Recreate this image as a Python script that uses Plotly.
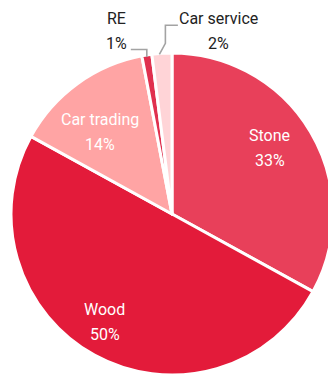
import math
import plotly.graph_objects as go

# ---- data ----
labels = ["Stone", "Wood", "Car trading", "RE", "Car service"]
values = [33, 50, 14, 1, 2]

# ---- styles ----
colors = ["#E8405A", "#E31B3A", "#FFA4A4", "#E0304E", "#FFD4D7"]
FONT = "Roboto"
FONT_SIZE = 16
LINE_GAP = 25  # px between label line and percent line

# ---- geometry (pixels) ----
FIG_W, FIG_H = 344, 377
M_L, M_R, M_T, M_B = 11, 11, 53, 2
PW, PH = FIG_W - M_L - M_R, FIG_H - M_T - M_B
CX, CY, R = M_L + PW / 2, M_T + PH / 2, min(PW, PH) / 2

# label placement style: inside -> (angle offset from slice mid, radius fraction)
inside_style = {"Stone": (-3.4, 0.733), "Wood": (3.0, 0.79), "Car trading": (-5.3, 0.68)}
# outside -> label centre offset from slice edge point, leader path offsets
outside_style = {
    "RE": dict(label=(-30, -24), path=[(0, 2), (0, -5.5), (-16, -5.5)]),
    "Car service": dict(label=(57, -22), path=[(-2.5, 1), (3.5, -10), (3.5, -28), (16, -28)]),
}

def px_to_paper(x, y):
    return (x - M_L) / PW, 1 - (y - M_T) / PH

total = sum(values)
mids = []
cum = 0
for v in values:
    mids.append((cum + v / 2) / total * 360)
    cum += v

def polar(angle_deg, r):
    a = math.radians(angle_deg)
    return CX + r * math.sin(a), CY - r * math.cos(a)

fig = go.Figure(go.Pie(
    labels=labels,
    values=values,
    sort=False,
    direction="clockwise",
    rotation=0,
    marker=dict(colors=colors, line=dict(color="#FFFFFF", width=3)),
    textinfo="none",
    hoverinfo="label+percent",
    showlegend=False,
    domain=dict(x=[0, 1], y=[0, 1]),
))

annotations = []
shapes = []
for lab, v, mid in zip(labels, values, mids):
    pct = f"{round(v / total * 100)}%"
    if lab in inside_style:
        off, rf = inside_style[lab]
        cx, cy = polar(mid + off, R * rf)
        color = "#FFFFFF"
    else:
        st = outside_style[lab]
        ex, ey = polar(mid, R)
        cx, cy = ex + st["label"][0], ey + st["label"][1]
        color = "#222222"
        pts = [px_to_paper(ex + dx, ey + dy) for dx, dy in st["path"]]
        path = "M " + " L ".join(f"{x:.5f},{y:.5f}" for x, y in pts)
        shapes.append(dict(type="path", xref="paper", yref="paper", path=path,
                           line=dict(color="#A3A3A3", width=1.6)))
    for txt, dy in ((lab, -LINE_GAP / 2), (pct, LINE_GAP / 2)):
        x, y = px_to_paper(cx, cy + dy)
        annotations.append(dict(x=x, y=y, xref="paper", yref="paper", text=txt,
                                showarrow=False, xanchor="center", yanchor="middle",
                                font=dict(family=FONT, size=FONT_SIZE, color=color)))

fig.update_layout(
    width=FIG_W,
    height=FIG_H,
    margin=dict(l=M_L, r=M_R, t=M_T, b=M_B),
    paper_bgcolor="#FFFFFF",
    plot_bgcolor="#FFFFFF",
    annotations=annotations,
    shapes=shapes,
)

fig.write_html("out.html", config={"displayModeBar": False},
               post_script="document.body.style.overflow='hidden';document.body.style.margin='0';")
